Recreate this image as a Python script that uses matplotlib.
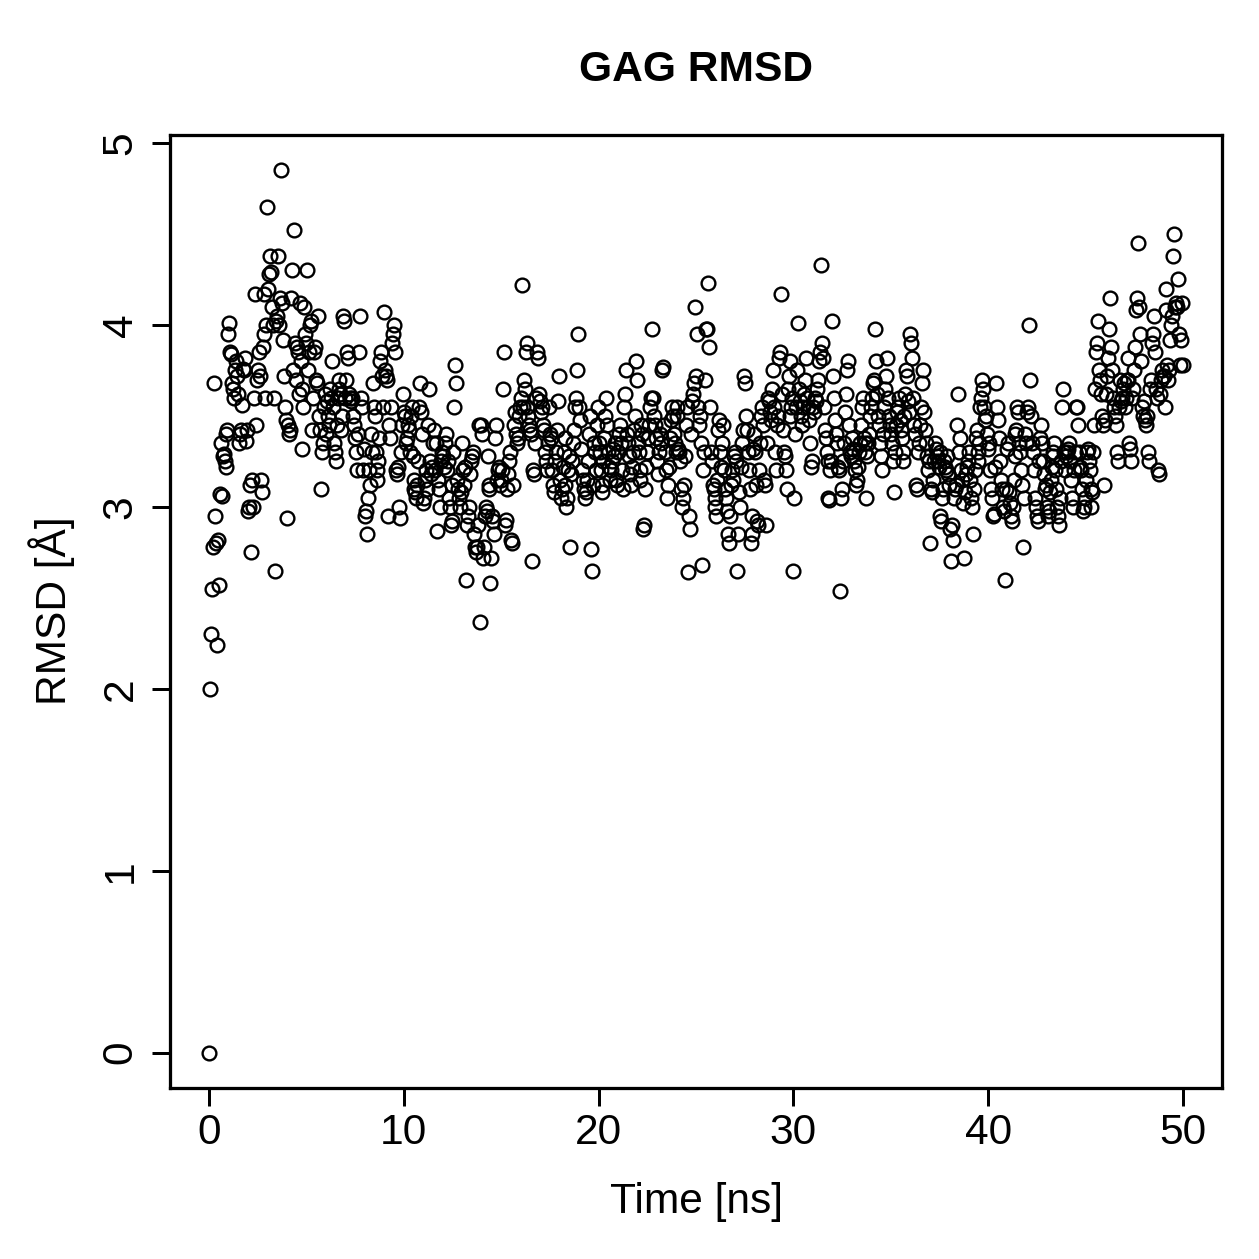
import numpy as np
import matplotlib
matplotlib.use("Agg")
import matplotlib.pyplot as plt

# RMSD values (Å), sampled every 0.05 ns, grouped by 10 ns blocks
rmsd_00_10 = [
    0.0, 2.0, 2.3, 2.55, 2.78, 3.68, 2.95, 2.8, 2.24, 2.82, 2.57, 3.07, 3.35, 3.06, 3.28, 3.29, 3.25, 3.22, 3.4, 3.42,
    3.95, 4.01, 3.85, 3.84, 3.68, 3.65, 3.6, 3.75, 3.8, 3.72, 3.62, 3.35, 3.4, 3.42, 3.56, 3.76, 3.75, 3.82, 3.36, 3.42,
    2.98, 3.0, 3.12, 2.75, 3.15, 3.0, 3.6, 4.17, 3.45, 3.7, 3.75, 3.85, 3.72, 3.15, 3.08, 3.88, 4.17, 3.95, 3.6, 4.0,
    4.65, 4.2, 4.28, 4.38, 4.29, 4.1, 4.0, 3.6, 2.65, 4.02, 4.05, 4.38, 4.0, 4.15, 4.85, 4.12, 3.92, 3.72, 3.55, 3.48,
    2.94, 3.45, 3.4, 3.42, 4.15, 4.3, 3.75, 4.52, 3.9, 3.7, 3.88, 3.85, 3.62, 4.12, 3.8, 3.65, 3.32, 3.55, 4.1, 3.95,
    3.9, 4.3, 3.75, 3.85, 4.0, 4.02, 3.42, 3.6, 3.85, 3.88, 3.7, 3.68, 4.05, 3.5, 3.42, 3.1, 3.3, 3.35, 3.55, 3.62,
    3.4, 3.58, 3.5, 3.45, 3.65, 3.6, 3.8, 3.55, 3.35, 3.3, 3.25, 3.45, 3.6, 3.65, 3.7, 3.62, 3.42, 3.5, 4.05, 4.02,
    3.6, 3.7, 3.85, 3.82, 3.62, 3.6, 3.58, 3.6, 3.5, 3.45, 3.38, 3.3, 3.2, 3.4, 3.85, 4.05, 3.6, 3.55, 3.2, 3.32,
    2.95, 2.98, 2.85, 3.05, 3.2, 3.12, 3.4, 3.3, 3.68, 3.55, 3.5, 3.3, 3.2, 3.15, 3.25, 3.38, 3.8, 3.85, 3.72, 3.55,
    4.07, 3.75, 3.72, 3.7, 2.95, 3.45, 3.38, 3.55, 3.9, 3.95, 4.0, 3.85, 3.2, 3.18, 3.22, 3.0, 2.94, 3.3, 3.45, 3.62,
]
rmsd_10_20 = [
    3.52, 3.5, 3.35, 3.38, 3.45, 3.42, 3.3, 3.5, 3.55, 3.28, 3.1, 3.15, 3.08, 3.05, 3.12, 3.25, 3.55, 3.68, 3.52, 3.4,
    3.02, 3.05, 3.15, 3.2, 3.1, 3.45, 3.65, 3.25, 3.18, 3.22, 3.35, 3.42, 3.2, 3.35, 2.87, 3.15, 3.1, 3.0, 3.25, 3.3,
    3.28, 3.22, 3.35, 3.4, 3.2, 3.25, 3.05, 3.0, 2.9, 2.92, 3.12, 3.3, 3.55, 3.78, 3.68, 3.15, 3.1, 3.05, 3.0, 3.08,
    3.35, 3.2, 3.12, 3.22, 2.6, 2.9, 2.95, 3.0, 3.18, 3.25, 3.28, 3.3, 2.85, 2.78, 2.75, 2.78, 2.9, 3.45, 2.37, 3.45,
    3.4, 2.72, 2.78, 2.95, 3.0, 2.98, 3.28, 3.1, 3.12, 2.58, 2.72, 2.95, 2.92, 2.85, 3.38, 3.45, 3.15, 3.2, 3.22, 3.12,
    3.15, 3.2, 3.65, 3.85, 2.9, 2.93, 3.1, 3.18, 3.25, 3.3, 2.82, 2.8, 3.12, 3.45, 3.52, 3.4, 3.35, 3.38, 3.5, 3.55,
    3.6, 4.22, 3.55, 3.7, 3.65, 3.85, 3.9, 3.55, 3.5, 3.45, 3.42, 3.4, 2.7, 3.2, 3.18, 3.35, 3.6, 3.85, 3.82, 3.62,
    3.58, 3.52, 3.55, 3.45, 3.42, 3.3, 3.25, 3.2, 3.35, 3.55, 3.4, 3.38, 3.2, 3.12, 3.08, 3.25, 3.3, 3.42, 3.58, 3.72,
    3.15, 3.05, 3.1, 3.22, 3.3, 3.38, 3.12, 3.0, 3.05, 3.2, 3.28, 2.78, 3.18, 3.25, 3.35, 3.42, 3.55, 3.6, 3.75, 3.95,
    3.55, 3.48, 3.32, 3.2, 3.15, 3.1, 3.05, 3.08, 3.15, 3.25, 3.4, 3.5, 2.77, 2.65, 3.12, 3.35, 3.3, 3.2, 3.45, 3.55,
]
rmsd_20_30 = [
    3.35, 3.3, 3.2, 3.08, 3.12, 3.25, 3.38, 3.5, 3.6, 3.45, 3.3, 3.22, 3.15, 3.2, 3.25, 3.32, 3.28, 3.35, 3.15, 3.12,
    3.3, 3.4, 3.45, 3.35, 3.2, 3.1, 3.55, 3.62, 3.75, 3.4, 3.35, 3.28, 3.18, 3.12, 3.22, 3.3, 3.42, 3.5, 3.8, 3.7,
    3.35, 3.3, 3.2, 3.15, 3.45, 3.4, 2.88, 2.9, 3.1, 3.22, 3.3, 3.38, 3.45, 3.55, 3.6, 3.98, 3.6, 3.5, 3.45, 3.38,
    3.25, 3.18, 3.3, 3.4, 3.35, 3.75, 3.77, 3.45, 3.3, 3.2, 3.05, 3.12, 3.22, 3.38, 3.48, 3.55, 3.5, 3.4, 3.35, 3.3,
    3.55, 3.5, 3.32, 3.3, 3.25, 3.1, 3.0, 3.05, 3.12, 3.28, 3.45, 3.55, 2.64, 2.95, 2.88, 3.4, 3.58, 3.62, 3.68, 4.1,
    3.72, 3.95, 3.55, 3.45, 3.5, 3.35, 2.68, 3.2, 3.3, 3.7, 3.98, 3.98, 4.23, 3.88, 3.55, 3.3, 3.25, 3.12, 3.1, 3.05,
    3.0, 2.95, 3.15, 3.42, 3.48, 3.3, 3.22, 3.35, 3.45, 3.2, 3.1, 3.05, 2.98, 2.85, 2.8, 2.95, 3.12, 3.2, 3.15, 3.28,
    3.3, 3.25, 2.65, 2.85, 3.08, 3.0, 3.22, 3.35, 3.42, 3.72, 3.68, 3.5, 3.42, 3.3, 3.2, 3.1, 2.8, 2.85, 2.95, 3.32,
    3.4, 3.3, 3.12, 2.92, 2.9, 3.2, 3.35, 3.5, 3.55, 3.45, 3.15, 3.12, 2.9, 3.35, 3.6, 3.58, 3.52, 3.48, 3.65, 3.75,
    3.55, 3.3, 3.2, 3.45, 3.5, 3.82, 3.85, 4.17, 3.62, 3.42, 3.3, 3.28, 3.2, 3.1, 3.65, 3.72, 3.8, 3.5, 3.55, 3.6,
]
rmsd_30_40 = [
    2.65, 3.05, 3.4, 3.55, 3.75, 4.01, 3.65, 3.58, 3.5, 3.45, 3.55, 3.62, 3.7, 3.82, 3.6, 3.55, 3.48, 3.35, 3.22, 3.25,
    3.55, 3.52, 3.6, 3.58, 3.65, 3.7, 3.8, 3.85, 4.33, 3.9, 3.82, 3.55, 3.42, 3.38, 3.3, 3.25, 3.05, 3.04, 3.2, 3.25,
    4.02, 3.72, 3.6, 3.48, 3.4, 3.35, 3.22, 3.2, 2.54, 3.05, 3.1, 3.25, 3.35, 3.52, 3.62, 3.75, 3.8, 3.45, 3.3, 3.28,
    3.38, 3.32, 3.25, 3.2, 3.12, 3.15, 3.22, 3.3, 3.35, 3.45, 3.55, 3.6, 3.38, 3.35, 3.3, 3.05, 3.28, 3.35, 3.4, 3.5,
    3.55, 3.6, 3.68, 3.7, 3.98, 3.8, 3.62, 3.5, 3.45, 3.35, 3.28, 3.2, 3.4, 3.55, 3.65, 3.72, 3.82, 3.6, 3.5, 3.45,
    3.4, 3.35, 3.25, 3.08, 3.3, 3.45, 3.52, 3.55, 3.6, 3.48, 3.42, 3.38, 3.3, 3.25, 3.5, 3.62, 3.75, 3.72, 3.58, 3.52,
    3.95, 3.9, 3.82, 3.6, 3.45, 3.4, 3.12, 3.1, 3.3, 3.35, 3.45, 3.55, 3.68, 3.75, 3.52, 3.42, 3.35, 3.28, 3.2, 3.25,
    2.8, 3.1, 3.08, 3.15, 3.25, 3.35, 3.32, 3.28, 3.25, 3.22, 3.3, 2.95, 2.92, 3.05, 3.1, 3.25, 3.22, 3.2, 3.28, 3.18,
    3.12, 2.88, 2.7, 2.9, 2.82, 3.05, 3.1, 3.12, 3.45, 3.62, 3.3, 3.38, 3.2, 3.15, 3.02, 2.72, 3.08, 3.18, 3.22, 3.25,
    3.3, 3.15, 3.05, 3.0, 2.85, 3.1, 3.2, 3.38, 3.42, 3.3, 3.25, 3.35, 3.55, 3.6, 3.7, 3.65, 3.55, 3.48, 3.5, 3.4,
]
rmsd_40_50 = [
    3.32, 3.35, 3.2, 3.1, 3.05, 2.95, 2.96, 3.22, 3.68, 3.55, 3.48, 3.38, 3.25, 3.15, 3.1, 3.0, 2.98, 2.6, 3.1, 3.32,
    3.35, 3.08, 3.02, 2.95, 2.92, 3.0, 3.15, 3.28, 3.4, 3.42, 3.55, 3.52, 3.35, 3.3, 3.2, 3.12, 2.78, 3.05, 3.4, 3.35,
    3.52, 3.55, 4.0, 3.7, 3.5, 3.35, 3.3, 3.2, 3.05, 3.0, 2.95, 2.92, 3.25, 3.38, 3.45, 3.35, 3.25, 3.18, 3.1, 3.12,
    3.0, 2.95, 2.98, 3.08, 3.15, 3.22, 3.28, 3.3, 3.35, 3.2, 3.1, 3.0, 2.95, 2.9, 3.05, 3.25, 3.55, 3.65, 3.3, 3.2,
    3.28, 3.3, 3.32, 3.35, 3.25, 3.15, 3.05, 3.0, 3.2, 3.3, 3.55, 3.55, 3.45, 3.3, 3.22, 3.2, 3.1, 2.98, 3.0, 3.05,
    3.15, 3.3, 3.32, 3.25, 3.2, 3.1, 3.0, 3.08, 3.3, 3.45, 3.65, 3.85, 3.9, 4.02, 3.75, 3.7, 3.62, 3.5, 3.45, 3.12,
    3.48, 3.62, 3.72, 3.82, 3.98, 4.15, 3.88, 3.75, 3.6, 3.55, 3.5, 3.45, 3.3, 3.25, 3.55, 3.7, 3.58, 3.6, 3.65, 3.68,
    3.55, 3.6, 3.7, 3.82, 3.7, 3.35, 3.32, 3.25, 3.6, 3.65, 3.75, 3.88, 4.08, 4.15, 4.45, 4.1, 3.95, 3.8, 3.55, 3.5,
    3.58, 3.48, 3.45, 3.5, 3.3, 3.25, 3.65, 3.7, 3.9, 3.95, 4.05, 3.85, 3.65, 3.6, 3.2, 3.18, 3.62, 3.7, 3.75, 3.72,
    3.72, 3.55, 4.08, 4.2, 3.78, 3.7, 3.75, 3.92, 4.0, 4.05, 4.38, 4.5, 4.1, 4.12, 4.1, 4.25, 3.95, 3.78, 3.92, 4.12,
    3.78,
]

rmsd = np.array(rmsd_00_10 + rmsd_10_20 + rmsd_20_30 + rmsd_30_40 + rmsd_40_50)
t_start, t_end = 0.0, 50.0
time_ns = np.linspace(t_start, t_end, len(rmsd))

x_ticks = [0, 10, 20, 30, 40, 50]
y_ticks = [0, 1, 2, 3, 4, 5]
title = "GAG RMSD"
xlabel = "Time [ns]"
ylabel = "RMSD [Å]"

plt.rcParams['font.family'] = ['Liberation Sans', 'DejaVu Sans']
W = H = 1259
dpi = 180
fs = 17
fig = plt.figure(figsize=(W / dpi, H / dpi), dpi=dpi)
ax = fig.add_axes([170 / W, 1 - 1088 / H, (1222 - 170) / W, (1088 - 135) / H])

ax.plot(time_ns, rmsd, linestyle='none', marker='o', markersize=5.5,
        markerfacecolor='none', markeredgecolor='black', markeredgewidth=0.95)

ax.set_xlim(-2, 52)
ax.set_ylim(-0.194, 5.044)
ax.set_xticks(x_ticks)
ax.set_yticks(y_ticks)
ax.set_xticklabels([str(v) for v in x_ticks], fontsize=fs)
ax.set_yticklabels([str(v) for v in y_ticks], fontsize=fs, rotation=90, va='center')
ax.tick_params(axis='both', direction='out', length=7.2, width=1.2, color='black')
ax.tick_params(axis='x', pad=3.0)
ax.tick_params(axis='y', pad=4.5)
for sp in ax.spines.values():
    sp.set_linewidth(1.3)

fig.text(696 / W, 1 - 70 / H, title, ha='center', va='center', fontsize=fs, fontweight='bold')
fig.text(696 / W, 1 - 1202 / H, xlabel, ha='center', va='center', fontsize=fs)
fig.text(52 / W, 1 - 611 / H, ylabel, ha='center', va='center', fontsize=fs, rotation=90)

fig.savefig("out.png", dpi=dpi, facecolor='white')
